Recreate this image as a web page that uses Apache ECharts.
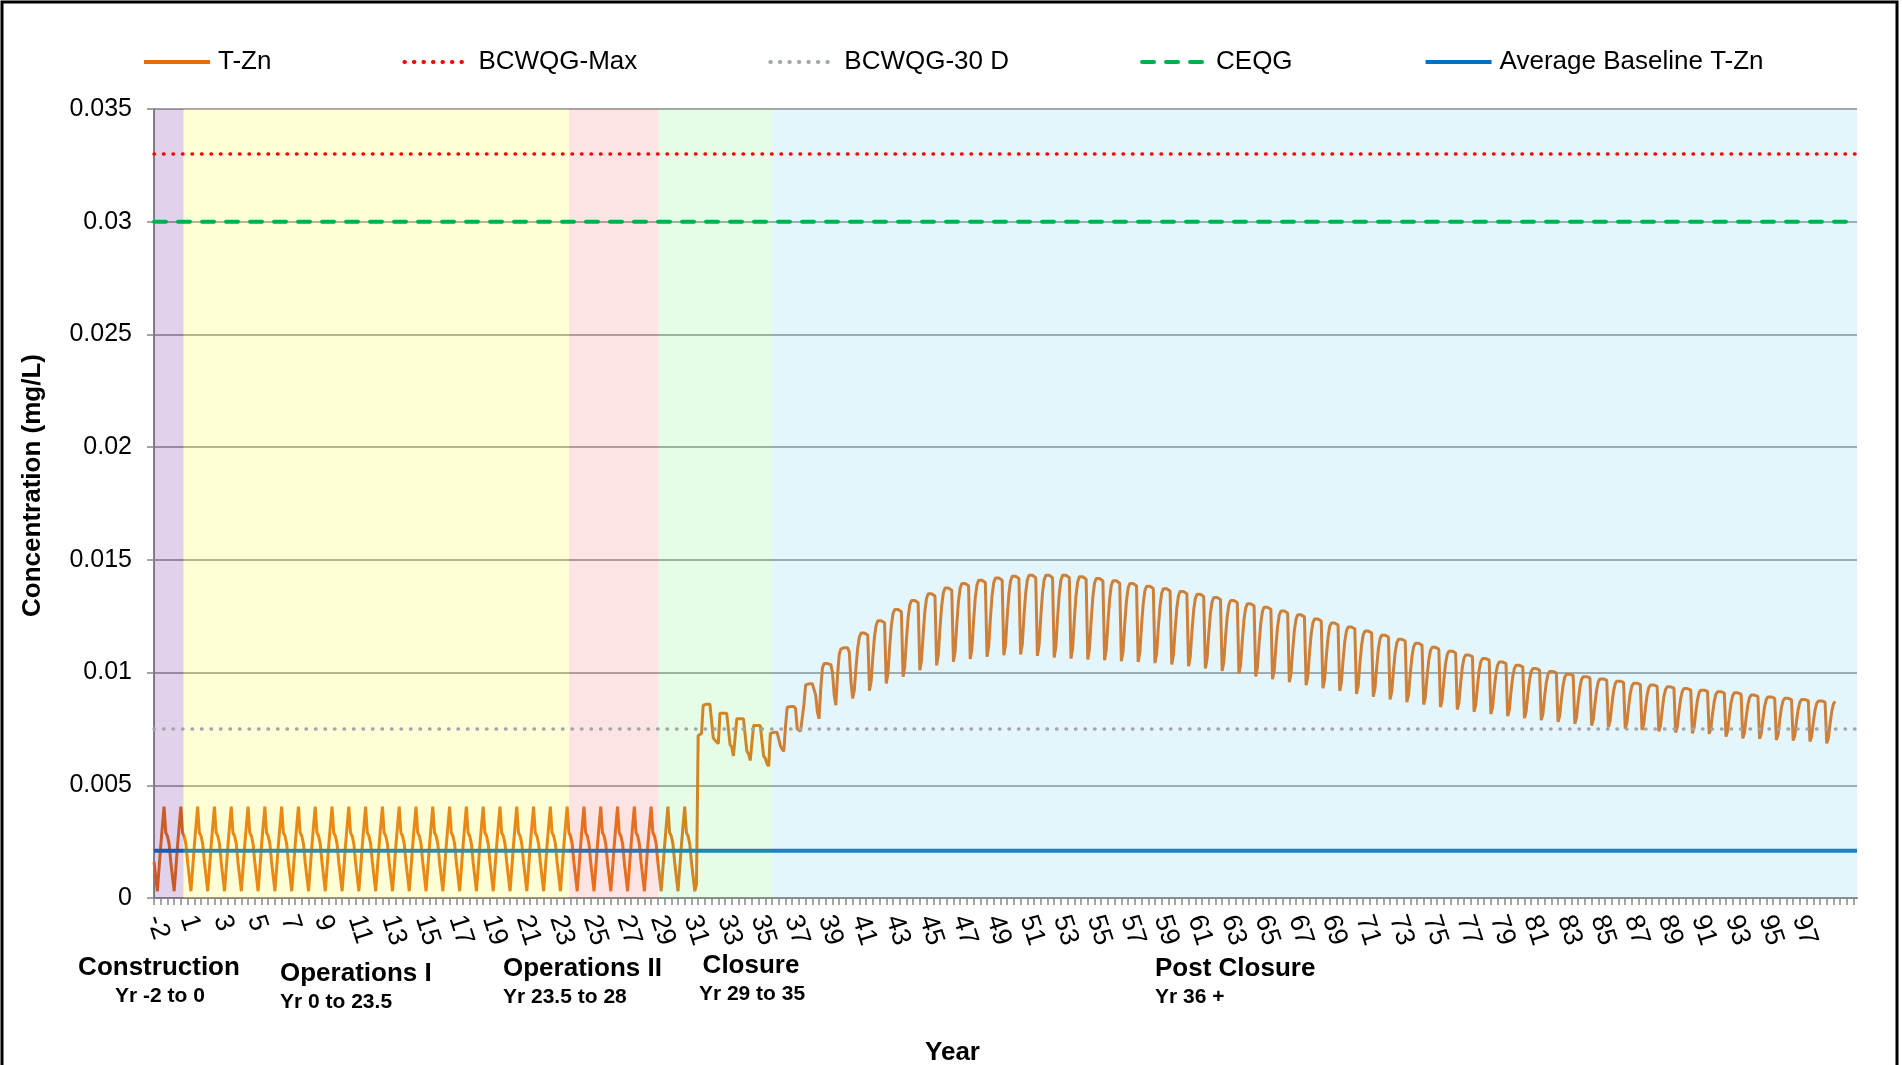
<!DOCTYPE html>
<html><head><meta charset="utf-8">
<script src="https://cdn.jsdelivr.net/npm/echarts@6/dist/echarts.min.js"></script>
<style>html,body{margin:0;padding:0;background:#fff}#chart{width:1902px;height:1065px}</style>
</head><body><div id="chart"></div>
<script>
// ---------- DATA ----------
// x tick labels (one every 20 samples, Excel-style)
const tickLabels = ['-2','1','3','5','7','9','11','13','15','17','19','21','23','25','27','29','31','33','35','37','39','41','43','45','47','49','51','53','55','57','59','61','63','65','67','69','71','73','75','77','79','81','83','85','87','89','91','93','95','97'];
const sampleCount = 1015;          // categories on the time axis (10 per year)
// T-Zn concentration, in µg/L, 10 samples per year
const tZnUgL = [
1.6,1.55,
0.3,1.3,2.3,3.2,4.05,2.9,2.75,2.4,1.6,1.55,
0.3,1.3,2.3,3.2,4.05,2.9,2.75,2.4,1.6,1.55,
0.3,1.3,2.3,3.2,4.05,2.9,2.75,2.4,1.6,1.55,
0.3,1.3,2.3,3.2,4.05,2.9,2.75,2.4,1.6,1.55,
0.3,1.3,2.3,3.2,4.05,2.9,2.75,2.4,1.6,1.55,
0.3,1.3,2.3,3.2,4.05,2.9,2.75,2.4,1.6,1.55,
0.3,1.3,2.3,3.2,4.05,2.9,2.75,2.4,1.6,1.55,
0.3,1.3,2.3,3.2,4.05,2.9,2.75,2.4,1.6,1.55,
0.3,1.3,2.3,3.2,4.05,2.9,2.75,2.4,1.6,1.55,
0.3,1.3,2.3,3.2,4.05,2.9,2.75,2.4,1.6,1.55,
0.3,1.3,2.3,3.2,4.05,2.9,2.75,2.4,1.6,1.55,
0.3,1.3,2.3,3.2,4.05,2.9,2.75,2.4,1.6,1.55,
0.3,1.3,2.3,3.2,4.05,2.9,2.75,2.4,1.6,1.55,
0.3,1.3,2.3,3.2,4.05,2.9,2.75,2.4,1.6,1.55,
0.3,1.3,2.3,3.2,4.05,2.9,2.75,2.4,1.6,1.55,
0.3,1.3,2.3,3.2,4.05,2.9,2.75,2.4,1.6,1.55,
0.3,1.3,2.3,3.2,4.05,2.9,2.75,2.4,1.6,1.55,
0.3,1.3,2.3,3.2,4.05,2.9,2.75,2.4,1.6,1.55,
0.3,1.3,2.3,3.2,4.05,2.9,2.75,2.4,1.6,1.55,
0.3,1.3,2.3,3.2,4.05,2.9,2.75,2.4,1.6,1.55,
0.3,1.3,2.3,3.2,4.05,2.9,2.75,2.4,1.6,1.55,
0.3,1.3,2.3,3.2,4.05,2.9,2.75,2.4,1.6,1.55,
0.3,1.3,2.3,3.2,4.05,2.9,2.75,2.4,1.6,1.55,
0.3,1.3,2.3,3.2,4.05,2.9,2.75,2.4,1.6,1.55,
0.3,1.3,2.3,3.2,4.05,2.9,2.75,2.4,1.6,1.55,
0.3,1.3,2.3,3.2,4.05,2.9,2.75,2.4,1.6,1.55,
0.3,1.3,2.3,3.2,4.05,2.9,2.75,2.4,1.6,1.55,
0.3,1.3,2.3,3.2,4.05,2.9,2.75,2.4,1.6,1.55,
0.3,1.3,2.3,3.2,4.05,2.9,2.75,2.4,1.6,1.55,
0.3,1.3,2.3,3.2,4.05,2.9,2.75,2.4,1.6,1.55,
0.3,1.3,2.3,3.2,4.05,2.9,2.75,2.4,1.6,1.55,
0.3,1.3,2.3,3.2,4.05,2.9,2.75,2.4,1.6,1.55,
0.3,0.6,7.2,7.25,7.3,
8.55,8.6,8.6,8.6,8.6,8.55,7.1,7.0,6.95,6.85,
8.2,8.2,8.2,8.2,8.2,8.15,6.8,6.7,6.3,6.25,
7.95,7.95,7.95,7.95,7.95,7.9,6.5,6.4,6.1,6.05,
7.65,7.65,7.65,7.65,7.65,7.6,6.3,6.2,5.95,5.85,
7.3,7.35,7.35,7.35,7.35,7.3,6.75,6.6,6.5,7.6,
8.45,8.5,8.5,8.5,8.5,8.4,7.5,7.45,7.4,7.35,
8.6,9.45,9.5,9.5,9.5,9.5,9.45,9.0,8.25,7.95,
9.3,10.2,10.4,10.4,10.4,10.4,10.35,10.0,9.0,8.55,
9.9,10.8,11.05,11.1,11.1,11.1,11.1,10.9,9.6,
8.85,9.23,10.24,11.08,11.58,11.75,11.75,11.75,11.75,11.66,
9.2,9.6,10.69,11.59,12.11,12.3,12.3,12.3,12.3,12.21,
9.52,9.95,11.09,12.05,12.6,12.8,12.8,12.8,12.8,12.7,
9.82,10.26,11.44,12.42,13.0,13.2,13.2,13.2,13.2,13.1,
10.1,10.54,11.73,12.72,13.3,13.5,13.5,13.5,13.5,13.4,
10.32,10.77,11.97,12.96,13.54,13.75,13.75,13.75,13.75,13.65,
10.48,10.93,12.15,13.15,13.74,13.95,13.95,13.95,13.95,13.85,
10.6,11.06,12.28,13.3,13.89,14.1,14.1,14.1,14.1,14.0,
10.7,11.16,12.38,13.4,13.99,14.2,14.2,14.2,14.2,14.1,
10.77,11.23,12.45,13.47,14.06,14.27,14.27,14.27,14.27,14.17,
10.8,11.26,12.49,13.51,14.11,14.32,14.32,14.32,14.32,14.21,
10.74,11.21,12.46,13.5,14.11,14.32,14.32,14.32,14.32,14.21,
10.67,11.15,12.42,13.48,14.1,14.32,14.32,14.32,14.32,14.21,
10.62,11.09,12.36,13.42,14.03,14.25,14.25,14.25,14.25,14.14,
10.58,11.05,12.3,13.34,13.96,14.17,14.17,14.17,14.17,14.06,
10.55,11.01,12.24,13.26,13.86,14.07,14.07,14.07,14.07,13.96,
10.5,10.95,12.16,13.16,13.74,13.95,13.95,13.95,13.95,13.85,
10.47,10.91,12.08,13.06,13.63,13.83,13.83,13.83,13.83,13.73,
10.42,10.85,12.0,12.96,13.52,13.72,13.72,13.72,13.72,13.62,
10.36,10.78,11.92,12.86,13.41,13.6,13.6,13.6,13.6,13.5,
10.28,10.7,11.81,12.74,13.28,13.47,13.47,13.47,13.47,13.37,
10.18,10.59,11.69,12.61,13.14,13.33,13.33,13.33,13.33,13.24,
10.07,10.48,11.57,12.48,13.01,13.2,13.2,13.2,13.2,13.11,
9.95,10.35,11.44,12.34,12.86,13.05,13.05,13.05,13.05,12.96,
9.83,10.23,11.3,12.19,12.72,12.9,12.9,12.9,12.9,12.81,
9.7,10.09,11.15,12.03,12.55,12.73,12.73,12.73,12.73,12.64,
9.57,9.96,11.01,11.87,12.38,12.56,12.56,12.56,12.56,12.47,
9.44,9.82,10.85,11.7,12.2,12.38,12.38,12.38,12.38,12.29,
9.31,9.69,10.7,11.54,12.03,12.2,12.2,12.2,12.2,12.11,
9.18,9.55,10.54,11.37,11.85,12.02,12.02,12.02,12.02,11.94,
9.05,9.41,10.39,11.2,11.67,11.84,11.84,11.84,11.84,11.76,
8.93,9.29,10.24,11.03,11.5,11.66,11.66,11.66,11.66,11.58,
8.81,9.16,10.09,10.87,11.32,11.48,11.48,11.48,11.48,11.4,
8.69,9.03,9.94,10.7,11.14,11.3,11.3,11.3,11.3,11.22,
8.58,8.91,9.8,10.54,10.97,11.12,11.12,11.12,11.12,11.04,
8.47,8.79,9.66,10.38,10.8,10.95,10.95,10.95,10.95,10.88,
8.36,8.68,9.52,10.22,10.64,10.78,10.78,10.78,10.78,10.71,
8.26,8.57,9.39,10.08,10.48,10.62,10.62,10.62,10.62,10.55,
8.16,8.46,9.27,9.94,10.33,10.47,10.47,10.47,10.47,10.4,
8.07,8.36,9.15,9.8,10.19,10.32,10.32,10.32,10.32,10.25,
7.98,8.27,9.04,9.67,10.05,10.18,10.18,10.18,10.18,10.11,
7.89,8.17,8.93,9.55,9.92,10.05,10.05,10.05,10.05,9.99,
7.81,8.09,8.83,9.44,9.8,9.93,9.93,9.93,9.93,9.87,
7.73,8.0,8.73,9.34,9.7,9.82,9.82,9.82,9.82,9.76,
7.65,7.92,8.64,9.24,9.6,9.72,9.72,9.72,9.72,9.66,
7.58,7.85,8.56,9.15,9.5,9.62,9.62,9.62,9.62,9.56,
7.51,7.77,8.48,9.07,9.41,9.53,9.53,9.53,9.53,9.47,
7.45,7.71,8.41,8.99,9.33,9.45,9.45,9.45,9.45,9.39,
7.39,7.65,8.34,8.92,9.25,9.37,9.37,9.37,9.37,9.31,
7.34,7.59,8.28,8.84,9.17,9.29,9.29,9.29,9.29,9.23,
7.3,7.55,8.22,8.78,9.11,9.22,9.22,9.22,9.22,9.16,
7.28,7.52,8.18,8.72,9.04,9.15,9.15,9.15,9.15,9.09,
7.16,7.41,8.09,8.65,8.98,9.1,9.1,9.1,9.1,9.04,
7.08,7.33,8.0,8.56,8.89,9.0,9.0,9.0,9.0,8.94,
7.06,7.3,7.95,8.49,8.81,8.92,8.92,8.92,8.92,8.86,
7.01,7.25,7.9,8.44,8.75,8.86,8.86,8.86,8.86,8.8,
6.98,7.22,7.85,8.38,8.69,8.8,8.8,8.8,8.8,8.75,
6.94,7.17,7.8,8.33,8.63,8.74,8.74,8.74,8.74,8.69,
6.86,7.1,7.75,8.29,8.61,8.72
];
// guideline values (mg/L)
const bcwqgMax = 0.033;
const bcwqg30d = 0.0075;
const ceqg = 0.03;
const avgBaseline = 0.0021;
// project phases: start/end in sample index along the time axis
const phaseBounds = [0, 17.6, 247.2, 300.4, 367.8, 1014];
const phaseNames = ['Construction', 'Operations I', 'Operations II', 'Closure', 'Post Closure'];
const phaseSpans = ['Yr -2 to 0', 'Yr 0 to 23.5', 'Yr 23.5 to 28', 'Yr 29 to 35', 'Yr 36 +'];

// ---------- BUILD ----------
const categories = Array.from({length: sampleCount}, (_, i) => String(i));
const tZn = tZnUgL.map(v => +(v / 1000).toFixed(6));
const xEnd = sampleCount - 1;
const bandData = phaseNames.map((n, i) => [phaseBounds[i], phaseBounds[i + 1], 0, 0.035]);
const bandColors = ['rgba(105,30,155,0.2)', 'rgba(255,255,55,0.2)', 'rgba(245,120,120,0.2)', 'rgba(130,240,130,0.2)', 'rgba(120,205,240,0.2)'];

const FONT = '"Liberation Sans", Arial, sans-serif';
const gridC = '#868686';

const chart = echarts.init(document.getElementById('chart'));
const phaseText = [
  {x: 159, y: 968, a: 'center'}, {x: 280, y: 974, a: 'left'}, {x: 503, y: 969, a: 'left'},
  {x: 751, y: 966, a: 'center'}, {x: 1155, y: 969, a: 'left'}
];
const graphics = [{
  type: 'rect', silent: true, z: 100,
  shape: {x: 2, y: 2, width: 1895, height: 1100},
  style: {fill: null, stroke: '#000', lineWidth: 3}
}];
phaseNames.forEach((n, i) => {
  const p = phaseText[i];
  graphics.push({type: 'text', x: p.x, y: p.y, silent: true,
    style: {text: n, font: 'bold 26px ' + FONT, fill: '#000', align: p.a, verticalAlign: 'middle'}});
  graphics.push({type: 'text', x: p.x + (p.a === 'center' ? 1 : 0), y: p.y + 28, silent: true,
    style: {text: phaseSpans[i], font: 'bold 21px ' + FONT, fill: '#000', align: p.a, verticalAlign: 'middle'}});
});

const option = {
  animation: false,
  backgroundColor: '#fff',
  textStyle: {fontFamily: FONT},
  legend: {
    data: ['T-Zn', 'BCWQG-Max', 'BCWQG-30 D', 'CEQG', 'Average Baseline T-Zn'],
    left: 137, top: 44, itemWidth: 66, itemHeight: 14, itemGap: 131,
    itemStyle: {opacity: 0},
    lineStyle: {width: 4},
    textStyle: {fontSize: 26, color: '#000', fontFamily: FONT, padding: [0, 0, 0, 3]}
  },
  grid: {left: 154, right: 45, top: 109, bottom: 167, containLabel: false, outerBoundsMode: 'none'},
  xAxis: [{
    type: 'category', data: categories, boundaryGap: false,
    axisLine: {lineStyle: {color: gridC, width: 2}},
    axisTick: {show: true, interval: (i) => i % 4 === 0, length: 7, lineStyle: {color: gridC, width: 1.5}},
    axisLabel: {
      interval: (i) => i % 20 === 0 && i / 20 < tickLabels.length,
      formatter: (v) => tickLabels[Number(v) / 20] || '',
      showMinLabel: true, showMaxLabel: true, hideOverlap: false,
      rotate: -72, fontSize: 27, color: '#000', margin: 18, fontFamily: FONT
    },
    splitLine: {show: false},
    name: 'Year', nameLocation: 'middle', nameGap: 142,
    nameTextStyle: {fontSize: 26, fontWeight: 'bold', color: '#000', fontFamily: FONT, padding: [0, 106, 0, 0]}
  }, {
    type: 'value', min: 0, max: xEnd, show: false
  }],
  yAxis: {
    type: 'value', min: 0, max: 0.035, interval: 0.005,
    axisLine: {show: true, lineStyle: {color: gridC, width: 2}},
    axisTick: {show: true, length: 7, lineStyle: {color: gridC, width: 1.5}},
    axisLabel: {fontSize: 25, color: '#000', margin: 22, fontFamily: FONT},
    splitLine: {show: true, lineStyle: {color: gridC, width: 1.5}},
    name: 'Concentration (mg/L)', nameLocation: 'middle', nameGap: 108,
    nameTextStyle: {fontSize: 26, fontWeight: 'bold', color: '#000', fontFamily: FONT, padding: [0, 0, 0, 36]}
  },
  series: [
    {name: 'T-Zn', type: 'line', data: tZn, xAxisIndex: 0, symbol: 'none', showSymbol: false, z: 2,
      lineStyle: {color: '#E46C0A', width: 3}, itemStyle: {color: '#E46C0A'}},
    {name: 'Average Baseline T-Zn', type: 'line', xAxisIndex: 1, symbol: 'none', showSymbol: false, z: 3,
      data: [[0, avgBaseline], [xEnd, avgBaseline]],
      lineStyle: {color: '#0070C0', width: 4}, itemStyle: {color: '#0070C0'}},
    {name: 'phases', type: 'custom', xAxisIndex: 1, z: 4, silent: true,
      data: bandData, encode: {x: [0, 1], y: [2, 3]},
      renderItem: (params, api) => {
        const p0 = api.coord([api.value(0), api.value(3)]);
        const p1 = api.coord([api.value(1), api.value(2)]);
        return {type: 'rect', shape: {x: p0[0], y: p0[1], width: p1[0] - p0[0], height: p1[1] - p0[1]},
          style: {fill: bandColors[params.dataIndex]}};
      }},
    {name: 'BCWQG-Max', type: 'line', xAxisIndex: 1, symbol: 'none', showSymbol: false, z: 5,
      data: [[0, bcwqgMax], [xEnd, bcwqgMax]],
      lineStyle: {color: '#FF0000', width: 3.5, type: [0.5, 9], cap: 'round'}, itemStyle: {color: '#FF0000'}},
    {name: 'BCWQG-30 D', type: 'line', xAxisIndex: 1, symbol: 'none', showSymbol: false, z: 5,
      data: [[0, bcwqg30d], [xEnd, bcwqg30d]],
      lineStyle: {color: '#A2A8AA', width: 3.5, type: [0.5, 9], cap: 'round'}, itemStyle: {color: '#A2A8AA'}},
    {name: 'CEQG', type: 'line', xAxisIndex: 1, symbol: 'none', showSymbol: false, z: 5,
      data: [[0, ceqg], [xEnd, ceqg]],
      lineStyle: {color: '#00B050', width: 4, type: [12, 12], cap: 'round'}, itemStyle: {color: '#00B050'}}
  ],
  graphic: graphics
};
chart.setOption(option);
</script>
</body></html>
